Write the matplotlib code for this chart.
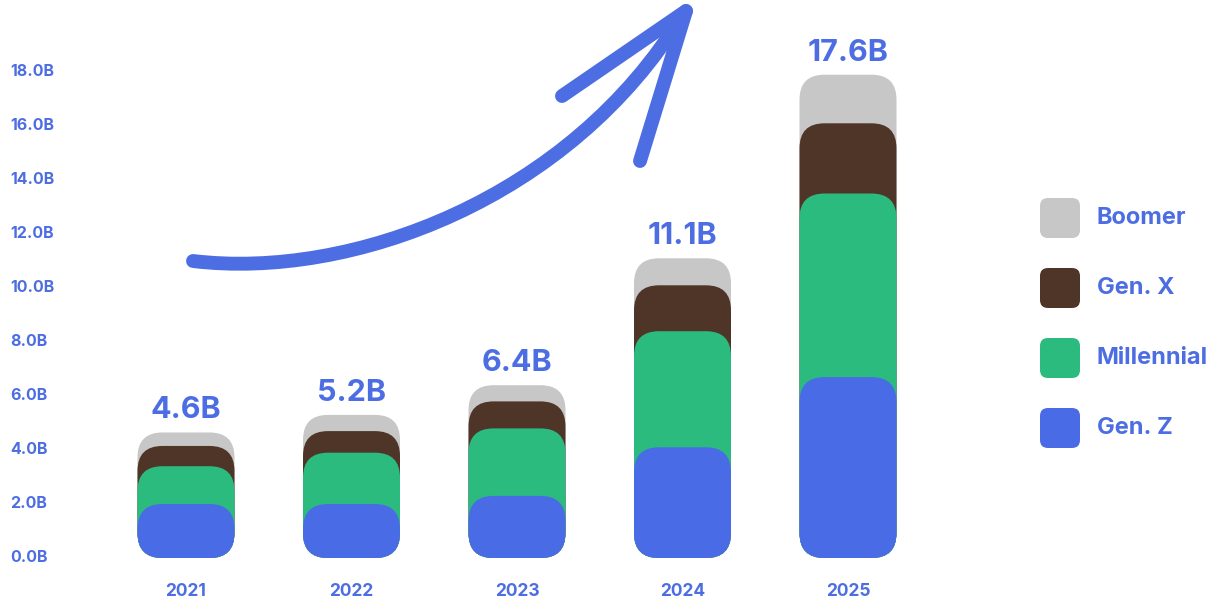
import numpy as np
import matplotlib
matplotlib.use("Agg")
import matplotlib.pyplot as plt
from matplotlib.patches import FancyBboxPatch
from matplotlib.path import Path
from matplotlib.patches import PathPatch

plt.rcParams['font.family'] = ['Inter', 'DejaVu Sans']

# data (billions)
years = ["2021", "2022", "2023", "2024", "2025"]
gen_z = [2.0, 2.0, 2.3, 4.1, 6.7]
millennial = [1.4, 1.9, 2.5, 4.3, 6.8]
gen_x = [0.75, 0.8, 1.0, 1.7, 2.6]
boomer = [0.5, 0.6, 0.6, 1.0, 1.8]
total_labels = [4.6, 5.2, 6.4, 11.1, 17.6]
yticks = [0, 2, 4, 6, 8, 10, 12, 14, 16, 18]

series_names = ["Boomer", "Gen. X", "Millennial", "Gen. Z"]
colors = {"Gen. Z": "#4A6BE6", "Millennial": "#2CBB7F", "Gen. X": "#4E3528", "Boomer": "#C7C7C7"}
text_blue = "#4D6DE3"

W, H = 1218, 603
fig = plt.figure(figsize=(W / 100, H / 100), dpi=100)

# main axes, fills the figure; pixel scale: 165.5 px per bar slot, 27 px per 1B
px_x, px_y = 165.5, 27.0
x0_px, y0_px = 186, 558
ax = fig.add_axes([0, 0, 1, 1])
ax.set_xlim(-x0_px / px_x, (W - x0_px) / px_x)
ax.set_ylim(-(H - y0_px) / px_y, y0_px / px_y)
ax.axis("off")

x = np.arange(len(years))
bar_w = 97 / px_x
r = 25 / px_x
aspect = px_x / px_y

stack = np.column_stack([gen_z, millennial, gen_x, boomer]).cumsum(axis=1)
tops = {"Gen. Z": stack[:, 0], "Millennial": stack[:, 1], "Gen. X": stack[:, 2], "Boomer": stack[:, 3]}

# each layer is a rounded box from 0 up to its cumulative top, back to front
for name in series_names:
    for xi, top in zip(x, tops[name]):
        p = FancyBboxPatch((xi - bar_w / 2, 0), bar_w, top,
                           boxstyle=f"round,pad=0,rounding_size={r}",
                           mutation_aspect=aspect, fc=colors[name], ec="none")
        ax.add_patch(p)

for xi, top, lab in zip(x, stack[:, 3], total_labels):
    ax.annotate(f"{lab:.1f}B", (xi, top), xytext=(0, 14), textcoords="offset pixels",
                ha="center", va="baseline", fontsize=22, fontweight="bold", color=text_blue)

for xi, yr in zip(x, years):
    ax.text(xi, (H - 592) / H, yr, transform=ax.get_xaxis_transform(),
            ha="center", va="center", fontsize=12.5, fontweight="bold", color=text_blue)

for v in yticks:
    ax.text(10 / W, v, f"{v:.1f}B", transform=ax.get_yaxis_transform(),
            ha="left", va="center", fontsize=11.5, fontweight="bold", color=text_blue)

# decoration layer in pixel coords (arrow + legend)
deco = fig.add_axes([0, 0, 1, 1])
deco.set_xlim(0, W)
deco.set_ylim(H, 0)
deco.axis("off")
deco.patch.set_alpha(0)

arrow_kw = dict(color=text_blue, lw=10, solid_capstyle="round")
curve = Path([(193, 261), (350, 280), (570, 200), (683, 14)],
             [Path.MOVETO, Path.CURVE4, Path.CURVE4, Path.CURVE4])
deco.add_patch(PathPatch(curve, fc="none", ec=text_blue, lw=10, capstyle="round"))
deco.plot([686, 562], [11, 96], **arrow_kw)
deco.plot([686, 640], [11, 161], **arrow_kw)

leg_y = [218, 288, 358, 428]
for name, yc in zip(series_names, leg_y):
    deco.add_patch(FancyBboxPatch((1040, yc - 20), 40, 40, boxstyle="round,pad=0,rounding_size=8",
                                  fc=colors[name], ec="none"))
    deco.text(1097, yc, name, ha="left", va="center", fontsize=17, fontweight="bold", color=text_blue)

fig.savefig("out.png", dpi=100)
